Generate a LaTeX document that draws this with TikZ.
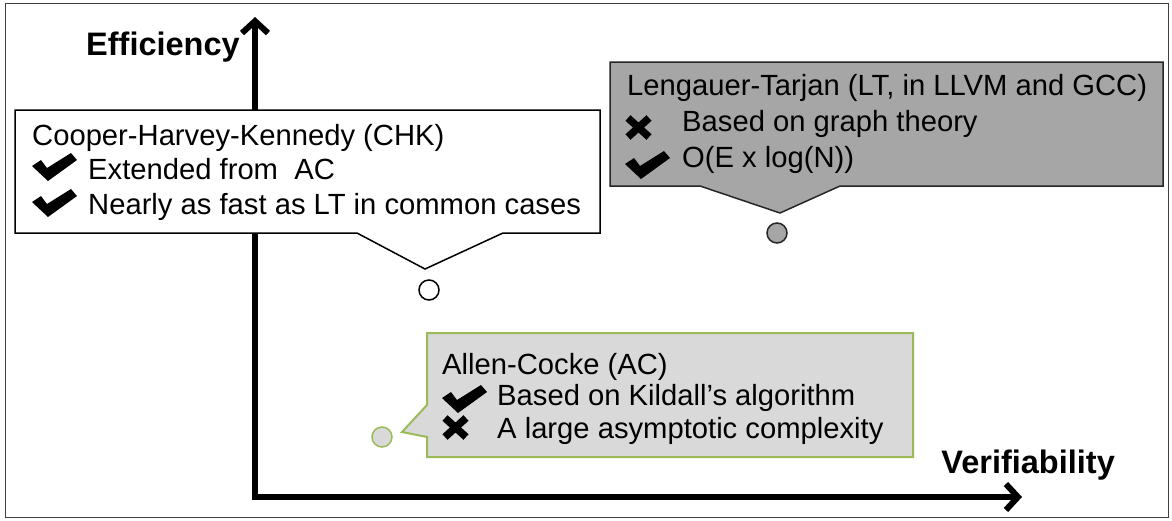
\documentclass[tikz,border=0pt]{standalone}
\usepackage{fontspec}
\setmainfont{Liberation Sans}
\usetikzlibrary{arrows.meta}

\definecolor{ltgray}{HTML}{A6A6A6}
\definecolor{acgray}{HTML}{D9D9D9}
\definecolor{acgreen}{HTML}{9BBB59}
\definecolor{framegray}{HTML}{404040}

\tikzset{
  txt/.style={anchor=base west, inner sep=0pt, font=\fontsize{29.2}{35}\selectfont},
  axislabel/.style={inner sep=0pt, font=\fontsize{32.5}{38}\selectfont\bfseries},
  axis/.style={line width=6pt, {Straight Barb[length=12pt,width=26pt]}-{Straight Barb[length=12pt,width=26pt]}},
  chkbox/.style={draw=black, line width=1.5pt, fill=white, line join=miter},
  ltbox/.style={draw=black!85, line width=1.5pt, fill=ltgray},
  acbox/.style={draw=acgreen, line width=2pt, fill=acgray},
  dot/.style={circle, minimum size=20pt, inner sep=0pt, line width=1.5pt},
  chkmark/.pic={\fill (0,13) -- (9,7) -- (15,15) -- (39,0) -- (45,7) -- (16,28) -- cycle;},
  xmark/.pic={\draw[line width=7.5pt] (3,3) -- (24,22) (24,3) -- (3,22);},
}

\begin{document}
\begin{tikzpicture}[x=1pt, y=-1pt]
  \useasboundingbox (0,0) rectangle (1172,520);
  \draw[framegray, line width=1pt] (5,3) rectangle (1168,517);

  % axes
  \coordinate (origin) at (255,497);
  \coordinate (ytop) at (255,17);
  \coordinate (xend) at (1022,497);
  \draw[axis] (ytop) -- (origin) -- (xend);
  \node[axislabel, anchor=base west] (eff) at (86,55) {Efficiency};
  \node[axislabel, anchor=base east] (ver) at (1115,473) {Verifiability};

  % Cooper-Harvey-Kennedy callout
  \draw[chkbox] (15,110) -- (600,110) -- (600,233) -- (503,233) -- (425,269)
    -- (357,233) -- (15,233) -- cycle;
  \node[dot, draw=black, fill=white] (chkdot) at (429,290) {};
  \node[txt] (chk1) at (32,145) {Cooper-Harvey-Kennedy (CHK)};
  \pic at (32,153) {chkmark};
  \node[txt] (chk2) at (88,179.5) {Extended from \ AC};
  \pic at (32,189) {chkmark};
  \node[txt] (chk3) at (88,214) {Nearly as fast as LT in common cases};

  % Lengauer-Tarjan callout
  \draw[ltbox] (610,62) -- (1163,62) -- (1163,186) -- (840,186) -- (780,213)
    -- (700,186) -- (610,186) -- cycle;
  \node[dot, draw=black!85, fill=ltgray] (ltdot) at (777,233) {};
  \node[txt] (lt1) at (627,95) {Lengauer-Tarjan (LT, in LLVM and GCC)};
  \pic at (625,115) {xmark};
  \node[txt] (lt2) at (682,131) {Based on graph theory};
  \pic at (625,151) {chkmark};
  \node[txt] (lt3) at (682,167) {O(E x log(N))};

  % Allen-Cocke callout
  \draw[acbox] (427,333) -- (913,333) -- (913,457) -- (427,457) -- (427,437)
    -- (402,432) -- (427,405) -- cycle;
  \node[dot, draw=acgreen, fill=acgray] (acdot) at (382,437) {};
  \node[txt] (ac1) at (442,374) {Allen-Cocke (AC)};
  \pic at (442,385) {chkmark};
  \node[txt] (ac2) at (497,405) {Based on Kildall’s algorithm};
  \pic at (442,415) {xmark};
  \node[txt] (ac3) at (497,438) {A large asymptotic complexity};
\end{tikzpicture}
\end{document}
